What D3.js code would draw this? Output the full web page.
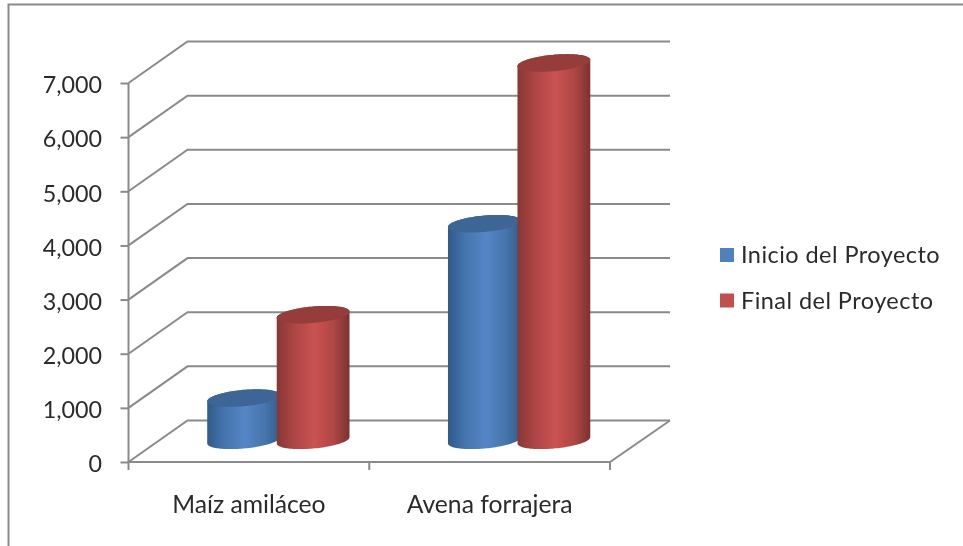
<!DOCTYPE html>
<html><head><meta charset="utf-8">
<script src="https://cdn.jsdelivr.net/npm/d3@7"></script>
<style>
html,body{margin:0;padding:0;background:#fff;overflow:hidden}
text{font-family:Lato,"Open Sans",sans-serif;fill:#2b2b2b}
</style></head><body><svg id="c" width="963" height="546"></svg>
<script>
const categories = ["Maíz amiláceo", "Avena forrajera"];
const seriesNames = ["Inicio del Proyecto", "Final del Proyecto"];
const inicio = [780, 4000];
const final_ = [2320, 6970];
const tickValues = [0, 1000, 2000, 3000, 4000, 5000, 6000, 7000];

const svg = d3.select("#c");
const defs = svg.append("defs");
defs.append("filter").attr("id","soft").attr("x","-5%").attr("y","-5%").attr("width","110%").attr("height","110%")
  .append("feGaussianBlur").attr("stdDeviation",0.5);

const grey = "#8a8a8a";
const x0 = d3.scaleBand().domain(categories).range([128.5, 610]);
const x1 = d3.scaleBand().domain(seriesNames).range([-69.5, 69.5]);
const y = d3.scaleLinear().domain([0, 7000]).range([462, 83]);
const depthX = 59, depthY = 41.5;

const root = svg.append("g").attr("filter","url(#soft)");

// frame
root.append("path").attr("d","M8.5,546V4.5H963").attr("fill","none").attr("stroke",grey).attr("stroke-width",2);

// walls
const walls = root.append("g").attr("fill","none").attr("stroke",grey).attr("stroke-width",2);
walls.selectAll("path.g").data(tickValues).join("path").attr("class","g")
  .attr("d", v => `M${x0.range()[0]},${y(v)}L${x0.range()[0]+depthX},${y(v)-depthY}H${x0.range()[1]+depthX+1}`);
walls.append("path").attr("d",
  `M${x0.range()[0]},${y(0)}H${x0.range()[1]}L${x0.range()[1]+depthX+1},${y(0)-depthY}`);

// y axis
const yAxis = d3.axisLeft(y).tickValues(tickValues).tickFormat(d3.format(",")).tickSize(8).tickPadding(18.5);
const gy = root.append("g").attr("transform",`translate(${x0.range()[0]},0)`).call(yAxis);
gy.selectAll("line,path").attr("stroke",grey).attr("stroke-width",2);
gy.select(".domain").attr("d",`M0,${y(7000)}V${y(0)}`);
gy.selectAll("text").style("font-size","23.3px").attr("font-family",null).attr("fill","#2b2b2b").attr("dy","0.42em");

// x axis
const gx = root.append("g").attr("transform",`translate(0,${y(0)})`)
  .call(d3.axisBottom(x0).tickSize(0).tickPadding(33));
gx.select(".domain").remove();
gx.selectAll("text").style("font-size","24.7px").attr("font-family",null).attr("fill","#2b2b2b");
const bounds = [x0.range()[0], ...categories.map(c => x0(c) + x0.bandwidth())];
root.append("g").selectAll("line").data(bounds).join("line")
  .attr("x1",d=>d).attr("x2",d=>d).attr("y1",y(0)).attr("y2",y(0)+8)
  .attr("stroke",grey).attr("stroke-width",2);

// gradients
const palettes = [
  {edgeL:"#2f5a8a",midL:"#4473ac",mid:"#5586c6",midR:"#4676ad",edgeR:"#325d8c",top:"#3d6696",sw:"#4f81bd"},
  {edgeL:"#873734",midL:"#aa4543",mid:"#c95351",midR:"#ae4745",edgeR:"#7b3230",top:"#943c3a",sw:"#c0504d"}
];
palettes.forEach((p,i)=>{
  const g = defs.append("linearGradient").attr("id","grad"+i);
  [[0,p.edgeL],[.22,p.midL],[.52,p.mid],[.78,p.midR],[1,p.edgeR]].forEach(s=>
    g.append("stop").attr("offset",s[0]).attr("stop-color",s[1]));
});

// cylinders: an ellipse in the sheared floor plane
const A = 34, D = 13, E = 8.8;
const tan = Math.atan2(D, A);
const pt = (cx,cy,t) => [cx + A*Math.cos(t) + D*Math.sin(t), cy - E*Math.sin(t)];
const line = d3.line();
const angles = d3.range(0, 61).map(i => i/60*Math.PI);
const data = [inicio, final_];
categories.forEach((c,ci)=>{
  seriesNames.forEach((s,si)=>{
    const v = data[si][ci];
    const cx = x0(c) + x0.bandwidth()/2 + x1(s) + x1.bandwidth()/2 + depthX/2;
    const base = y(0) - 21.7, top = y(v) - 21.7;
    // lower half of the outline at the base, then upper half at the top
    const lower = angles.map(a => pt(cx, base, tan + Math.PI + a));
    const upper = angles.map(a => pt(cx, top, tan + a));
    const g = root.append("g");
    g.append("path").attr("d", line(lower.concat(upper))+"Z").attr("fill",`url(#grad${si})`);
    g.append("path").attr("d", line(d3.range(0,121).map(i=>pt(cx,top,i/120*2*Math.PI)))+"Z").attr("fill",palettes[si].top);
  });
});

// legend
const ly = d3.scalePoint().domain(seriesNames).range([255, 300.5]);
const leg = root.append("g").selectAll("g").data(seriesNames).join("g")
  .attr("transform",d=>`translate(720,${ly(d)})`);
leg.append("rect").attr("x",0).attr("y",-7).attr("width",14).attr("height",14)
  .attr("fill",(d,i)=>palettes[i].sw);
leg.append("text").attr("x",21).attr("y",8).style("font-size","23.5px").style("letter-spacing","0.45px").text(d=>d);
</script></body></html>
